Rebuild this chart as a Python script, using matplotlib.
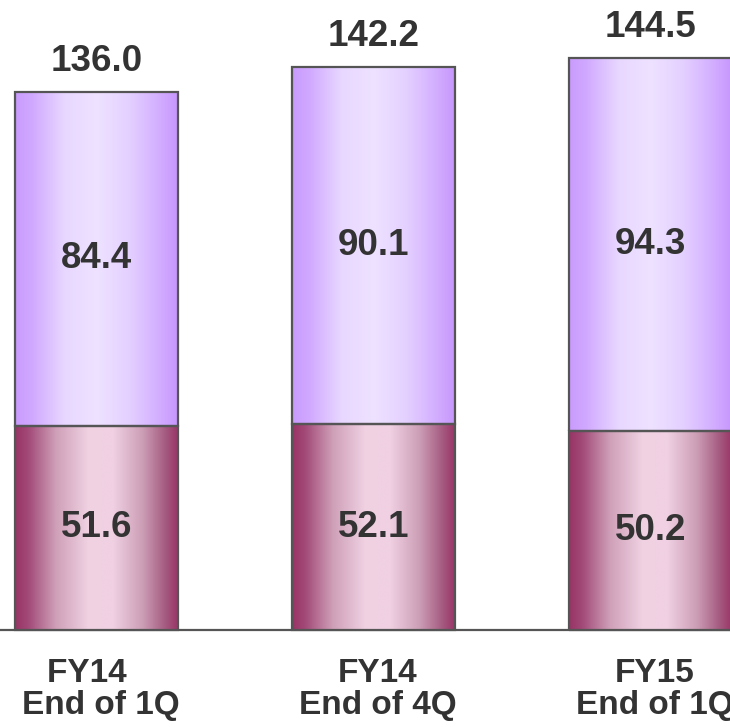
import matplotlib
matplotlib.use("Agg")
import matplotlib.pyplot as plt
import numpy as np
from matplotlib.colors import LinearSegmentedColormap
from matplotlib.patches import Rectangle

categories = ["FY14   \nEnd of 1Q", "FY14\nEnd of 4Q", "FY15\nEnd of 1Q"]
lower_vals = [51.6, 52.1, 50.2]
upper_vals = [84.4, 90.1, 94.3]
totals = [136.0, 142.2, 144.5]

plt.rcParams['font.family'] = ['Liberation Sans', 'DejaVu Sans']

TEXT = '#333333'
EDGE = '#555555'

# horizontal "cylinder" shading for each segment
lower_cmap = LinearSegmentedColormap.from_list('lower', [
    (0.0, '#993366'), (0.08, '#a24a78'), (0.25, '#cfa0b8'),
    (0.45, '#f0d2e3'), (0.6, '#f0d0e2'), (0.78, '#cc9eb6'),
    (0.92, '#a55a80'), (1.0, '#993366')])
upper_cmap = LinearSegmentedColormap.from_list('upper', [
    (0.0, '#c99bfd'), (0.1, '#d0a8ff'), (0.3, '#e8d7ff'),
    (0.5, '#eee2ff'), (0.7, '#e4d0ff'), (0.88, '#d3aeff'),
    (1.0, '#c695fd')])

fig = plt.figure(figsize=(7.3, 7.27), dpi=100)
ax = fig.add_axes([0, 0, 1, 1])

width = 0.589
grad = np.linspace(0, 1, 256).reshape(1, -1)

def shaded_bar(x, bottom, height, cmap):
    x0, x1 = x - width / 2, x + width / 2
    ax.imshow(grad, cmap=cmap, aspect='auto', extent=[x0, x1, bottom, bottom + height],
              interpolation='bilinear', zorder=2)
    ax.add_patch(Rectangle((x0, bottom), width, height, fill=False,
                           edgecolor=EDGE, linewidth=1.6, zorder=3))

xs = np.arange(len(categories))
for x, lo, up, tot, cat in zip(xs, lower_vals, upper_vals, totals, categories):
    shaded_bar(x, 0, lo, lower_cmap)
    shaded_bar(x, lo, up, upper_cmap)
    ax.text(x, lo / 2, f"{lo:.1f}", ha='center', va='center', fontsize=26.5,
            fontweight='bold', color=TEXT, zorder=4)
    ax.text(x, lo + up / 2, f"{up:.1f}", ha='center', va='center', fontsize=26.5,
            fontweight='bold', color=TEXT, zorder=4)
    ax.annotate(f"{tot:.1f}", (x, lo + up), xytext=(0, 22), textcoords='offset points',
                ha='center', va='center', fontsize=26.5, fontweight='bold', color=TEXT)
    ax.annotate(cat, (x, 0), xytext=(3, -43), textcoords='offset points',
                ha='center', va='center', fontsize=24, fontweight='bold',
                color=TEXT, linespacing=1.05)

ax.axhline(0, color=EDGE, linewidth=1.6, zorder=1)

ax.set_xlim(-0.348, 2.287)
ax.set_ylim(-24.5, 159.25)
ax.axis('off')

fig.savefig('out.png', dpi=100)
